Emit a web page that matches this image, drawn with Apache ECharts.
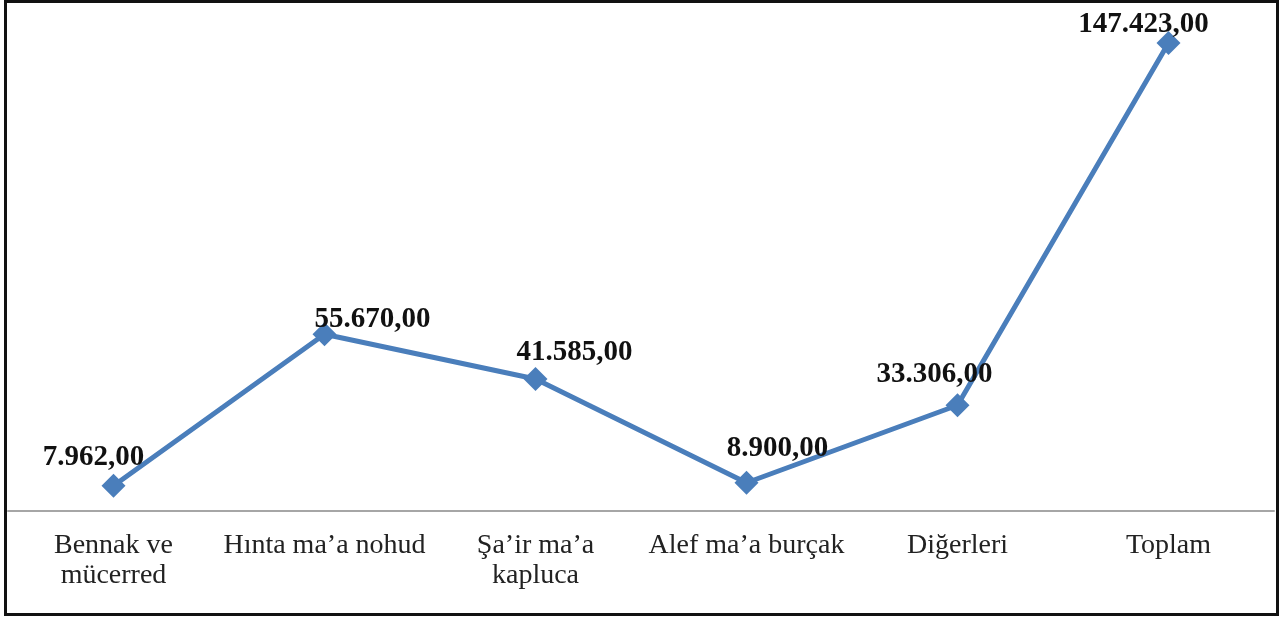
<!DOCTYPE html>
<html>
<head>
<meta charset="utf-8">
<script src="https://cdn.jsdelivr.net/npm/echarts@6/dist/echarts.min.js"></script>
<style>
  html, body { margin: 0; padding: 0; background: #fff; }
  #frame { position: absolute; left: 4px; top: 0; width: 1269px; height: 610px; border: 3px solid #111; }
  #chart { position: absolute; left: 0; top: 0; width: 1279px; height: 619px; }
</style>
</head>
<body>
<div id="frame"></div>
<div id="chart"></div>
<script>
// kategoriler ve değerler
const categories = ['Bennak ve\nmücerred', 'Hınta ma\u2019a nohud', 'Şa\u2019ir ma\u2019a\nkapluca', 'Alef ma\u2019a burçak', 'Diğerleri', 'Toplam']
const values = [7962, 55670, 41585, 8900, 33306, 147423]
// etiket kaymaları (Excel'deki gibi)
const labelOffsets = [[-20, -4], [48, 10], [39, -2], [31, -10], [-23, -6], [-25, 6]]

const chart = echarts.init(document.getElementById('chart'), null, { renderer: 'canvas' })

function fmt(v) {
  const s = String(v).replace(/\B(?=(\d{3})+(?!\d))/g, '.')
  return s + ',00'
}

chart.setOption({
  animation: false,
  grid: { left: 8, right: 5, top: 3, bottom: 108 },
  xAxis: {
    type: 'category',
    data: categories,
    boundaryGap: true,
    axisLine: { lineStyle: { color: '#a6a6a6', width: 2 } },
    axisTick: { show: false },
    axisLabel: {
      interval: 0,
      margin: 20,
      color: '#222',
      fontFamily: 'Liberation Serif',
      fontSize: 28,
      lineHeight: 30
    }
  },
  yAxis: {
    type: 'value',
    min: 0,
    max: 160000,
    show: false,
    splitLine: { show: false }
  },
  series: [{
    type: 'line',
    data: values.map((v, i) => ({
      value: v,
      label: { offset: labelOffsets[i] }
    })),
    symbol: 'diamond',
    symbolSize: 24,
    itemStyle: { color: '#4a7ebb' },
    lineStyle: { color: '#4a7ebb', width: 5 },
    label: {
      show: true,
      position: 'top',
      distance: -2,
      formatter: p => fmt(p.value),
      color: '#111',
      fontFamily: 'Liberation Serif',
      fontWeight: 'bold',
      fontSize: 29
    }
  }]
})
</script>
</body>
</html>
